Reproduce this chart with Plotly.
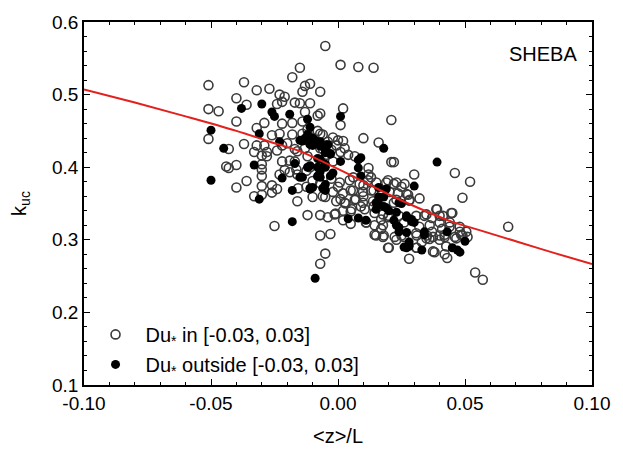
import plotly.graph_objects as go

# ---- data ----
in_x = [-0.051,-0.051,-0.047,-0.051,-0.043,-0.044,-0.043,-0.040,-0.040,-0.040,-0.040,-0.037,-0.036,-0.037,-0.036,
        -0.033,-0.032,-0.032,-0.032,-0.030,-0.030,-0.030,-0.030,-0.030,-0.029,-0.028,-0.027,-0.026,-0.026,-0.026,
        -0.025,-0.024,-0.024,-0.024,-0.023,-0.022,-0.022,-0.022,-0.022,-0.021,-0.021,-0.020,-0.019,-0.018,-0.018,
        -0.018,-0.017,-0.017,-0.016,-0.016,-0.016,-0.015,-0.015,-0.014,-0.013,-0.013,-0.012,-0.012,-0.012,-0.011,
        -0.011,-0.011,-0.011,-0.010,-0.010,-0.008,-0.007,-0.007,-0.008,-0.007,-0.007,-0.007,-0.006,-0.006,-0.005,
        -0.005,-0.005,-0.004,-0.004,-0.003,-0.002,-0.001,0.000,0.000,0.001,0.001,0.001,0.001,0.002,0.002,
        0.002,0.003,0.004,0.005,0.005,0.005,0.006,0.007,0.008,0.009,0.010,0.010,0.010,0.011,0.012,
        0.012,0.013,0.014,0.014,0.014,0.015,0.016,0.017,0.017,0.018,0.019,0.020,0.020,0.021,0.021,
        0.022,0.022,0.022,0.023,0.024,0.025,0.025,0.026,0.026,0.027,0.028,0.028,0.030,0.031,0.031,
        0.032,0.033,0.034,0.035,0.036,0.037,0.037,0.038,0.039,0.040,0.040,0.041,0.042,0.043,0.044,
        0.045,0.046,0.046,0.048,0.049,0.049,0.051,0.052,0.054,0.057,0.067,
        -0.0026,0.0007,0.0046,0.0085,0.0118,0.0151,0.0197,0.0230,0.0262,
        -0.0020,0.0020,0.0059,0.0098,0.0131,0.0203,0.0236,0.0276,
        -0.0007,0.0026,0.0066,0.0098,0.0138,0.0230,0.0282,0.0321,
        -0.0013,0.0020,0.0053,0.0105,0.0144,0.0177,0.0197,0.0308,0.0348,0.0387,0.0413,0.0446,
        0.0112,0.0144,0.0177,0.0361,0.0400,0.0439,0.0479,0.0505,
        0.0144,0.0177,0.0223,0.0308,0.0348,0.0374,0.0400,0.0420,0.0466,0.0485,
        0.0197,0.0308,0.0374,0.0420,0.0426,
        -0.029,-0.033,-0.028,-0.030,-0.017,-0.023,-0.019,-0.023,-0.014,-0.0105,-0.007,-0.014,-0.007,
        -0.013,-0.007,-0.0046,-0.0046,-0.0164,-0.0124,-0.0157,-0.0124,-0.006,
        -0.002,-0.0006,0.0026,-0.0026,0.0066]
in_y = [0.513,0.480,0.477,0.439,0.425,0.401,0.399,0.403,0.372,0.463,0.495,0.517,0.486,0.432,0.381,
        0.360,0.506,0.454,0.430,0.388,0.374,0.362,0.416,0.404,0.461,0.421,0.508,0.444,0.375,0.365,
        0.319,0.487,0.423,0.370,0.500,0.490,0.460,0.430,0.408,0.396,0.497,0.433,0.409,0.524,0.461,
        0.445,0.489,0.425,0.390,0.353,0.422,0.537,0.488,0.504,0.476,0.512,0.415,0.334,0.452,0.434,
        0.515,0.488,0.400,0.381,0.359,0.471,0.504,0.267,0.450,0.334,0.306,0.378,0.445,0.425,0.281,
        0.359,0.567,0.435,0.331,0.308,0.408,0.336,0.437,0.373,0.356,0.541,0.421,0.458,0.481,0.436,
        0.327,0.350,0.417,0.339,0.322,0.368,0.386,0.356,0.538,0.346,0.360,0.440,0.375,0.324,0.390,
        0.399,0.386,0.368,0.346,0.537,0.306,0.434,0.328,0.315,0.306,0.379,0.289,0.333,0.407,0.465,
        0.351,0.407,0.377,0.300,0.333,0.373,0.306,0.324,0.304,0.363,0.274,0.354,0.390,0.306,0.289,
        0.318,0.297,0.333,0.306,0.301,0.330,0.311,0.283,0.342,0.306,0.333,0.315,0.304,0.275,0.324,
        0.337,0.392,0.304,0.311,0.306,0.358,0.304,0.380,0.255,0.245,0.318,
        0.384,0.379,0.382,0.377,0.382,0.379,0.382,0.379,0.377,
        0.366,0.364,0.368,0.366,0.368,0.366,0.364,0.362,
        0.353,0.351,0.355,0.351,0.353,0.355,0.355,0.357,
        0.335,0.340,0.342,0.342,0.337,0.335,0.331,0.333,0.335,0.342,0.333,0.337,
        0.324,0.320,0.320,0.320,0.324,0.318,0.318,0.311,
        0.307,0.304,0.304,0.309,0.302,0.304,0.300,0.307,0.302,0.307,
        0.289,0.289,0.284,0.280,0.291,
        0.430,0.421,0.415,0.397,0.408,0.390,0.393,0.446,0.446,0.441,0.446,0.463,0.474,
        0.426,0.426,0.430,0.417,0.397,0.395,0.371,0.373,0.360,
        0.441,0.430,0.426,0.424,0.415]

out_x = [-0.050,-0.050,-0.045,-0.038,-0.033,-0.031,-0.031,-0.030,-0.026,-0.025,-0.023,-0.022,-0.019,-0.018,-0.018,
         -0.017,-0.015,-0.014,-0.013,-0.012,-0.011,-0.011,-0.010,-0.009,-0.009,-0.008,-0.007,-0.007,-0.007,-0.005,
         -0.005,-0.005,-0.003,-0.002,0.001,0.001,0.004,0.008,0.008,0.008,0.015,0.015,0.016,0.018,0.019,
         0.019,0.023,0.024,0.024,0.027,0.027,0.028,0.029,0.030,0.030,0.033,0.034,0.039,0.043,0.045,
         0.047,0.048,0.050,
         0.023,0.025,0.022,0.027,0.029,0.024,0.027,0.028,0.026,0.034,0.018,
         -0.012,-0.014,-0.011,-0.007,-0.004,-0.012,-0.008,-0.005,-0.015,-0.011,-0.008,-0.006,
         -0.010,-0.005,-0.003,-0.007,-0.011,-0.003,-0.008,-0.010,-0.005,0.009,0.009,0.016,0.018,0.016,0.020,0.011]
out_y = [0.451,0.382,0.426,0.481,0.403,0.446,0.356,0.487,0.476,0.470,0.435,0.385,0.473,0.368,0.325,
         0.405,0.437,0.386,0.440,0.466,0.370,0.455,0.430,0.247,0.437,0.412,0.394,0.386,0.435,0.404,
         0.376,0.424,0.419,0.392,0.408,0.470,0.329,0.399,0.410,0.330,0.351,0.342,0.359,0.426,0.344,
         0.370,0.320,0.311,0.351,0.289,0.333,0.291,0.328,0.374,0.324,0.286,0.311,0.407,0.311,0.289,
         0.286,0.283,0.298,
         0.338,0.350,0.327,0.331,0.325,0.317,0.310,0.297,0.290,0.307,0.346,
         0.445,0.436,0.431,0.429,0.431,0.400,0.400,0.400,0.386,0.371,0.387,0.371,
         0.440,0.420,0.418,0.411,0.402,0.388,0.388,0.372,0.368,0.413,0.388,0.372,0.359,0.350,0.340,0.327]

curve_x = [-0.10,-0.08,-0.06,-0.04,-0.025,-0.015,-0.005,0.005,0.015,0.027,0.044,0.056,0.07,0.085,0.10]
curve_y = [0.507,0.489,0.470,0.450,0.433,0.422,0.406,0.389,0.371,0.351,0.326,0.313,0.298,0.282,0.2665]

x_ticks = [-0.10, -0.05, 0.00, 0.05, 0.10]
x_tick_labels = ["-0.10", "-0.05", "0.00", "0.05", "0.10"]
y_ticks = [0.1, 0.2, 0.3, 0.4, 0.5, 0.6]
y_tick_labels = ["0.1", "0.2", "0.3", "0.4", "0.5", "0.6"]

FONT = "Liberation Sans, Arial, sans-serif"

fig = go.Figure()
fig.add_trace(go.Scatter(
    x=in_x, y=in_y, mode="markers", name="Du<sub>*</sub> in [-0.03, 0.03]", legendgroup="a",
    marker=dict(symbol="circle-open", size=9, color="#3a3a3a", line=dict(width=1.6, color="#3a3a3a")),
))
fig.add_trace(go.Scatter(
    x=out_x, y=out_y, mode="markers", name="Du<sub>*</sub> outside [-0.03, 0.03]", legendgroup="b",
    marker=dict(symbol="circle", size=9, color="black", line=dict(width=0)),
))
fig.add_trace(go.Scatter(
    x=curve_x, y=curve_y, mode="lines", showlegend=False,
    line=dict(color="#e3201b", width=2, shape="spline"),
))

axis_common = dict(
    showgrid=False, zeroline=False, showline=True, linecolor="black", linewidth=1.5,
    mirror="ticks", ticks="inside", ticklen=6, tickwidth=1.3, tickcolor="black",
    tickfont=dict(family=FONT, size=19, color="black"),
)
fig.update_xaxes(
    range=[-0.10, 0.10], tickvals=x_ticks, ticktext=x_tick_labels,
    minor=dict(ticks="inside", dtick=0.01, tick0=0, ticklen=3, tickwidth=1.1, tickcolor="black"),
    title=dict(text="&lt;z&gt;/L", font=dict(family=FONT, size=20, color="black"), standoff=16),
    **axis_common,
)
fig.update_yaxes(
    range=[0.1, 0.6], tickvals=y_ticks, ticktext=y_tick_labels,
    minor=dict(ticks="inside", dtick=0.02, tick0=0.1, ticklen=3, tickwidth=1.1, tickcolor="black"),
    title=dict(text="k<sub>uc</sub>", font=dict(family=FONT, size=20, color="black"), standoff=20),
    **axis_common,
)

fig.add_annotation(
    x=0.095, y=0.556, xref="x", yref="y", text="SHEBA", showarrow=False,
    xanchor="right", yanchor="middle", font=dict(family=FONT, size=20, color="black"),
)

fig.update_layout(
    width=623, height=456,
    margin=dict(l=84, r=31, t=12, b=67),
    paper_bgcolor="white", plot_bgcolor="white",
    legend=dict(
        x=0.003, y=0.003, xanchor="left", yanchor="bottom",
        bgcolor="rgba(0,0,0,0)", borderwidth=0,
        font=dict(family=FONT, size=20, color="black"),
        itemsizing="trace", itemwidth=50, tracegroupgap=1,
    ),
)

fig.write_html(
    "out.html",
    config={"displayModeBar": False},
    post_script="document.body.style.margin='0';document.body.style.padding='0';",
)
